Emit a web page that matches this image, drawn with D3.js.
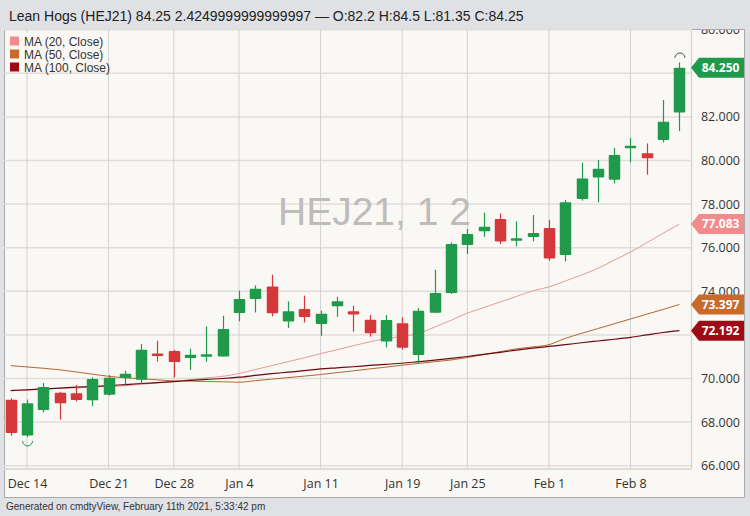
<!DOCTYPE html>
<html><head><meta charset="utf-8">
<script src="https://cdn.jsdelivr.net/npm/d3@7"></script>
<style>
html,body{margin:0;padding:0;background:#dfe1e5;}
svg{display:block;}
</style></head><body>
<svg id="c" width="750" height="516"></svg>
<script>
// ---- data ----
const dates = ["Dec 11","Dec 14","Dec 15","Dec 16","Dec 17","Dec 18","Dec 21","Dec 22","Dec 23","Dec 24",
  "Dec 28","Dec 29","Dec 30","Dec 31","Jan 4","Jan 5","Jan 6","Jan 7","Jan 8","Jan 11","Jan 12","Jan 13",
  "Jan 14","Jan 15","Jan 19","Jan 20","Jan 21","Jan 22","Jan 25","Jan 26","Jan 27","Jan 28","Jan 29",
  "Feb 1","Feb 2","Feb 3","Feb 4","Feb 5","Feb 8","Feb 9","Feb 10","Feb 11"];
const opens  = [69.03,67.38,68.56,69.35,69.32,69.00,69.26,70.02,69.94,71.14,71.26,70.94,71.01,71.01,73.00,73.65,74.22,72.61,73.19,72.50,73.31,73.08,72.70,71.70,72.53,71.08,73.02,73.92,76.12,76.75,77.32,76.35,76.49,76.90,75.67,78.23,79.22,79.12,80.59,80.33,80.94,82.20];
const highs  = [69.09,69.03,69.79,69.39,69.70,70.05,70.16,70.36,71.58,71.73,71.32,71.37,72.39,72.88,74.03,74.27,74.76,73.54,73.80,73.11,73.75,73.34,72.91,72.91,72.80,73.23,74.99,76.24,76.86,77.61,77.57,77.21,77.50,77.28,78.19,79.90,80.02,80.57,81.03,80.78,82.78,84.50];
const lows   = [67.38,67.32,68.44,68.12,68.95,68.74,69.22,69.67,69.75,70.78,70.05,70.39,70.77,71.00,72.62,73.03,72.85,72.32,72.57,71.96,72.83,72.15,71.92,71.43,71.33,70.67,73.00,73.88,75.71,76.50,76.17,76.06,76.29,75.40,75.37,78.16,78.08,78.95,79.91,79.35,80.83,81.35];
const closes = [67.50,68.86,69.61,68.86,69.01,69.98,70.04,70.22,71.32,71.03,70.76,71.09,71.09,72.27,73.65,74.12,72.99,73.08,72.82,72.97,73.54,72.94,72.07,72.68,71.41,73.11,73.92,76.17,76.63,76.96,76.28,76.40,76.67,75.50,78.08,79.17,79.62,80.25,80.65,80.10,81.78,84.25];
const ma20  = [69.46,69.49,69.52,69.55,69.57,69.61,69.63,69.67,69.73,69.80,69.86,69.95,70.03,70.10,70.23,70.41,70.59,70.77,70.95,71.14,71.32,71.50,71.68,71.82,71.93,72.07,72.36,72.67,73.00,73.25,73.51,73.76,74.02,74.20,74.47,74.75,75.05,75.43,75.80,76.23,76.66,77.083];
const ma50  = [70.59,70.53,70.47,70.40,70.30,70.20,70.10,70.03,69.99,69.94,69.89,69.88,69.86,69.85,69.83,69.90,69.97,70.04,70.11,70.18,70.27,70.35,70.44,70.52,70.61,70.69,70.77,70.85,70.96,71.10,71.23,71.36,71.45,71.55,71.84,72.07,72.29,72.51,72.73,72.95,73.17,73.397];
const ma100 = [69.44,69.48,69.52,69.56,69.60,69.63,69.67,69.72,69.77,69.81,69.86,69.91,69.96,70.00,70.06,70.14,70.22,70.29,70.36,70.44,70.49,70.54,70.60,70.65,70.70,70.77,70.84,70.92,71.01,71.11,71.20,71.30,71.39,71.47,71.55,71.64,71.72,71.80,71.89,72.00,72.11,72.192];
const priceTicks = [66,68,70,72,74,76,78,80,82,84,86];
const dateTicks = ["Dec 14","Dec 21","Dec 28","Jan 4","Jan 11","Jan 19","Jan 25","Feb 1","Feb 8"];
const maNames = ["MA (20, Close)","MA (50, Close)","MA (100, Close)"];
const titleText = "Lean Hogs (HEJ21) 84.25 2.4249999999999997 \u2014 O:82.2 H:84.5 L:81.35 C:84.25";
const watermark = "HEJ21, 1 2";
const footer = "Generated on cmdtyView, February 11th 2021, 5:33:42 pm";

// ---- styles / layout ----
const UP = "#1f9a4a", DOWN = "#d5383a";
const maSeries = [ma20, ma50, ma100];
const maLine = ["#e99a98", "#b86630", "#6b0910"];
const maTag = ["#f28b8b", "#c76a2c", "#9e0b16"];
const panel = {x0:4, x1:744, y0:29, y1:497};
const plot = {x0:4, x1:691, y0:29, y1:469};
const FONT = "'Liberation Sans', Arial, sans-serif";
const AXF = "'Open Sans', sans-serif";

const svg = d3.select("#c");
const x = d3.scalePoint().domain(dates).range([10.7, 679.4]);
const y = d3.scaleLinear().domain([66, 86]).range([465.7, 29.7]);

// title
svg.append("text").attr("x", 9).attr("y", 21).attr("font-family", FONT).attr("font-size", 14)
  .attr("fill", "#222").text(titleText);

// panel
svg.append("rect").attr("x", panel.x0 + 0.5).attr("y", panel.y0 + 0.5)
  .attr("width", panel.x1 - panel.x0).attr("height", panel.y1 - panel.y0)
  .attr("fill", "#faf8f4").attr("stroke", "#a9a9a9");

const defs = svg.append("defs");
defs.append("clipPath").attr("id", "pc").append("rect")
  .attr("x", plot.x0 + 1).attr("y", plot.y0 + 1).attr("width", plot.x1 - plot.x0 - 1).attr("height", plot.y1 - plot.y0 - 1);
defs.append("clipPath").attr("id", "ac").append("rect")
  .attr("x", plot.x1).attr("y", panel.y0 + 1).attr("width", panel.x1 - plot.x1).attr("height", plot.y1 - panel.y0);

// grid
const grid = svg.append("g");
grid.selectAll("line.h").data(priceTicks).join("line")
  .attr("x1", plot.x0).attr("x2", plot.x1).attr("y1", d => y(d)).attr("y2", d => y(d))
  .attr("stroke", "#e0dedb").attr("stroke-width", 1.5);
grid.selectAll("line.v").data(dateTicks).join("line")
  .attr("x1", d => x(d)).attr("x2", d => x(d)).attr("y1", plot.y0).attr("y2", plot.y1)
  .attr("stroke", "#d2d2d2").attr("stroke-width", 1);
svg.append("line").attr("x1", plot.x1 + 0.5).attr("x2", plot.x1 + 0.5).attr("y1", plot.y0).attr("y2", plot.y1)
  .attr("stroke", "#d6d6d6").attr("stroke-width", 1.5);
svg.append("line").attr("x1", plot.x0).attr("x2", plot.x1).attr("y1", plot.y1).attr("y2", plot.y1)
  .attr("stroke", "#dedcd8").attr("stroke-width", 2);

// watermark
svg.append("text").attr("x", 278).attr("y", 225).attr("font-family", FONT).attr("font-size", 39)
  .attr("fill", "#bdbcba").text(watermark);

const pg = svg.append("g").attr("clip-path", "url(#pc)");

// MA lines
maSeries.forEach((s, k) => {
  pg.append("path").datum(s)
    .attr("d", d3.line().x((d, i) => x(dates[i])).y(d => y(d)).curve(d3.curveMonotoneX))
    .attr("fill", "none").attr("stroke", maLine[k]).attr("stroke-width", k === 2 ? 1.2 : 1);
});

// candles
const cw = 11.5;
const idx = d3.range(dates.length);
const cg = pg.append("g");
cg.selectAll("line.w").data(idx).join("line")
  .attr("x1", i => Math.round(x(dates[i])) + 0.5).attr("x2", i => Math.round(x(dates[i])) + 0.5)
  .attr("y1", i => y(highs[i])).attr("y2", i => y(lows[i]))
  .attr("stroke", i => closes[i] >= opens[i] ? UP : DOWN).attr("stroke-width", 1.2);
cg.selectAll("rect.b").data(idx).join("rect")
  .attr("x", i => Math.round(x(dates[i])) + 0.5 - cw / 2)
  .attr("y", i => { const t = y(Math.max(opens[i], closes[i])), b = y(Math.min(opens[i], closes[i])); return b - t < 2.5 ? (t + b) / 2 - 1.25 : t; })
  .attr("width", cw)
  .attr("height", i => Math.max(2.5, Math.abs(y(opens[i]) - y(closes[i]))))
  .attr("rx", 1)
  .attr("fill", i => closes[i] >= opens[i] ? UP : DOWN);

// high / low markers
const iLow = d3.minIndex(lows), iHigh = d3.maxIndex(highs);
const pLow = d3.path(); pLow.arc(x(dates[iLow]) + 0.5, y(lows[iLow]) + 4, 5, 0, Math.PI);
svg.append("path").attr("d", pLow.toString()).attr("fill", "none").attr("stroke", UP).attr("stroke-width", 1);
const pHigh = d3.path(); pHigh.arc(x(dates[iHigh]) + 0.5, y(highs[iHigh]) - 4.5, 5, Math.PI, 2 * Math.PI);
svg.append("path").attr("d", pHigh.toString()).attr("fill", "none").attr("stroke", "#3a5a44").attr("stroke-width", 1);

// legend
const lg = svg.append("g");
lg.append("rect").attr("x", 7).attr("y", 33).attr("width", 98).attr("height", 39).attr("fill", "#faf8f4");
maNames.forEach((n, k) => {
  lg.append("rect").attr("x", 10).attr("y", 36.5 + k * 13).attr("width", 9).attr("height", 9).attr("fill", maTag[k]);
  lg.append("text").attr("x", 24).attr("y", 45.5 + k * 13).attr("font-family", FONT).attr("font-size", 12)
    .attr("fill", "#333").text(n);
});

// value tags (last close + MA values)
const tagVals = [closes[closes.length - 1]].concat(maSeries.map(s => s[s.length - 1]));
const tagCols = [UP].concat(maTag);

// right axis: labels fully covered by a value tag are not drawn (as in the reference)
const shownTicks = priceTicks.filter(t => tagVals.every(v => Math.abs(y(t) - y(v)) > 7));
const ya = svg.append("g").attr("clip-path", "url(#ac)").append("g").attr("transform", `translate(740,0)`)
  .call(d3.axisLeft(y).tickValues(shownTicks).tickFormat(d3.format(".3f")).tickSize(0).tickPadding(0));
ya.select(".domain").remove();
ya.selectAll("text").attr("font-family", AXF).attr("font-size", 12.5).attr("fill", "#333");

// bottom axis
const xa = svg.append("g").attr("transform", `translate(0,${plot.y1})`)
  .call(d3.axisBottom(x).tickValues(dateTicks).tickSize(0).tickPadding(10));
xa.select(".domain").remove();
xa.selectAll("text").attr("font-family", AXF).attr("font-size", 12.5).attr("fill", "#333");

function tag(v, col) {
  const cy = y(v);
  const p = d3.path();
  p.moveTo(plot.x1, cy); p.lineTo(plot.x1 + 8, cy - 10); p.lineTo(panel.x1, cy - 10);
  p.lineTo(panel.x1, cy + 10); p.lineTo(plot.x1 + 8, cy + 10); p.closePath();
  svg.append("path").attr("d", p.toString()).attr("fill", col);
  svg.append("text").attr("x", 720.5).attr("y", cy + 4.3).attr("text-anchor", "middle")
    .attr("font-family", AXF).attr("font-weight", "bold").attr("font-size", 12).attr("fill", "#fff")
    .text(d3.format(".3f")(v));
}
tagVals.forEach((v, k) => tag(v, tagCols[k]));

// footer
svg.append("text").attr("x", 6).attr("y", 510).attr("font-family", FONT).attr("font-size", 10)
  .attr("fill", "#333").text(footer);
</script>
</body></html>
